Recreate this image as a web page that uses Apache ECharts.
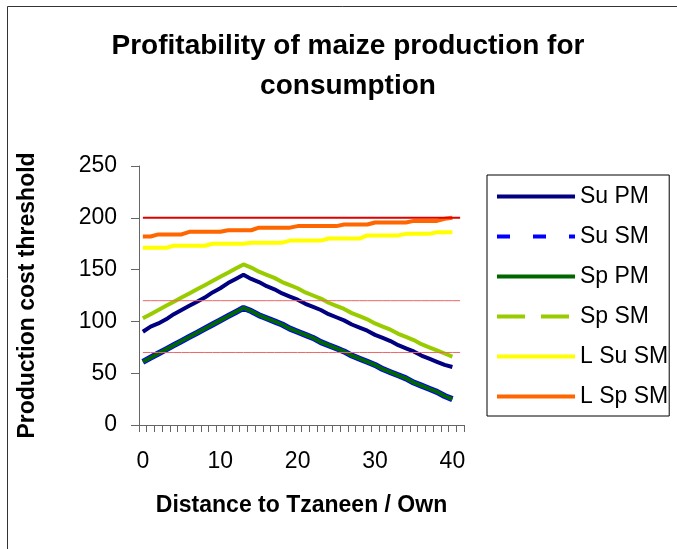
<!DOCTYPE html>
<html>
<head>
<meta charset="utf-8">
<script src="https://cdn.jsdelivr.net/npm/echarts@6/dist/echarts.min.js"></script>
<style>
  html, body { margin: 0; padding: 0; background: #fff; }
  #main { width: 677px; height: 549px; }
</style>
</head>
<body>
<div id="main"></div>
<script>
// distance categories (0..41)
var distance = ["0","1","2","3","4","5","6","7","8","9","10","11","12","13","14","15","16","17","18","19","20",
  "21","22","23","24","25","26","27","28","29","30","31","32","33","34","35","36","37","38","39","40","41"];

var suPM = [90,95,98,102,107,111,115,119,123,128,132,137,141,145,141,138,134,131,127,124,121,
  117,114,111,107,104,101,97,94,91,87,84,81,77,74,71,67,64,61,58,56];
var suSM = [61,65,69,73,77,81,85,89,93,97,101,105,109,113,110,106,103,100,97,93,90,
  87,84,80,77,74,71,67,64,61,58,54,51,48,45,41,38,35,32,28,25];
var spPM = [61,65,69,73,77,81,85,89,93,97,101,105,109,113,110,106,103,100,97,93,90,
  87,84,80,77,74,71,67,64,61,58,54,51,48,45,41,38,35,32,28,25];
var spSM = [103,107,111,115,119,123,127,131,135,139,143,147,151,155,152,148,145,142,138,135,132,
  128,125,122,118,115,112,108,105,102,98,95,92,88,85,82,78,75,72,69,66];
var lSuSM = [171,171,171,171,173,173,173,173,173,175,175,175,175,175,176,176,176,176,176,178,178,
  178,178,178,180,180,180,180,180,183,183,183,183,183,184.5,184.5,184.5,184.5,186,186,186];
var lSpSM = [182,182,184,184,184,184,186.5,186.5,186.5,186.5,186.5,188,188,188,188,190.5,190.5,190.5,190.5,190.5,192,
  192,192,192,192,192,193.5,193.5,193.5,193.5,195.5,195.5,195.5,195.5,195.5,197,197,197,197,199,200];

// threshold lines
var line200 = [200,200,200,200,200,200,200,200,200,200,200,200,200,200,200,200,200,200,200,200,200,
  200,200,200,200,200,200,200,200,200,200,200,200,200,200,200,200,200,200,200,200,200];
var line120 = [120,120,120,120,120,120,120,120,120,120,120,120,120,120,120,120,120,120,120,120,120,
  120,120,120,120,120,120,120,120,120,120,120,120,120,120,120,120,120,120,120,120,120];
var line70 = [70,70,70,70,70,70,70,70,70,70,70,70,70,70,70,70,70,70,70,70,70,
  70,70,70,70,70,70,70,70,70,70,70,70,70,70,70,70,70,70,70,70,70];

var font = 'Liberation Sans, Arial, sans-serif';

var myChart = echarts.init(document.getElementById('main'));

function lineSeries(name, data, color, width) {
	return {
		name: name,
		type: 'line',
		data: data,
		symbol: 'none',
		showSymbol: false,
		animation: false,
		lineStyle: { color: color, width: width },
		itemStyle: { color: color }
	};
}

var option = {
	animation: false,
	title: {
		text: 'Profitability of maize production for\nconsumption',
		left: 343,
		top: 21,
		textAlign: 'center',
		textStyle: {
			fontFamily: font,
			fontSize: 28,
			fontWeight: 'bold',
			color: '#000',
			lineHeight: 40
		}
	},
	graphic: [{
		type: 'rect',
		shape: { x: 7.5, y: 6.5, width: 700, height: 600 },
		style: { fill: 'none', stroke: '#333', lineWidth: 1 },
		silent: true
	}],
	legend: {
		orient: 'vertical',
		left: 487,
		top: 175,
		padding: [10, 1, 8, 8],
		itemWidth: 78,
		itemHeight: 14,
		itemGap: 17,
		borderColor: '#000',
		borderWidth: 1,
		itemStyle: { opacity: 0 },
		lineStyle: { width: 4 },
		textStyle: { fontFamily: font, fontSize: 23, color: '#000' },
		data: [
			{ name: 'Su PM' },
			{ name: 'Su SM', lineStyle: { type: [13, 23] } },
			{ name: 'Sp PM' },
			{ name: 'Sp SM', lineStyle: { type: [28, 16] } },
			{ name: 'L Su SM' },
			{ name: 'L Sp SM' }
		]
	},
	grid: {
		left: 139,
		right: 213,
		top: 166,
		bottom: 124
	},
	xAxis: {
		type: 'category',
		data: distance,
		boundaryGap: true,
		name: 'Distance to Tzaneen / Own',
		nameLocation: 'middle',
		nameGap: 69,
		nameTextStyle: { fontFamily: font, fontSize: 23, fontWeight: 'bold', color: '#000' },
		axisLine: { lineStyle: { color: '#666', width: 1 } },
		axisTick: { show: true, interval: 0, length: 7, lineStyle: { color: '#666' } },
		axisLabel: { interval: 9, margin: 25, fontFamily: font, fontSize: 23, color: '#000' },
		splitLine: { show: false }
	},
	yAxis: {
		type: 'value',
		min: 0,
		max: 250,
		interval: 50,
		name: 'Production cost threshold',
		nameLocation: 'middle',
		nameGap: 100,
		nameTextStyle: { fontFamily: font, fontSize: 23, fontWeight: 'bold', color: '#000' },
		axisLine: { show: true, lineStyle: { color: '#666', width: 1 } },
		axisTick: { show: true, length: 8, lineStyle: { color: '#666' } },
		axisLabel: { margin: 22, fontFamily: font, fontSize: 23, color: '#000' },
		splitLine: { show: false }
	},
	series: [
		lineSeries('Su PM', suPM, '#000080', 4),
		lineSeries('Su SM', suSM, '#0000ff', 6),
		lineSeries('Sp PM', spPM, '#006600', 4),
		lineSeries('Sp SM', spSM, '#99cc00', 4),
		lineSeries('L Su SM', lSuSM, '#ffff00', 4),
		lineSeries('L Sp SM', lSpSM, '#ff6600', 4),
		lineSeries('t200', line200, '#e00000', 2),
		lineSeries('t120', line120, '#ee6666', 1),
		lineSeries('t70', line70, '#ee6666', 1)
	]
};

myChart.setOption(option);
</script>
</body>
</html>
